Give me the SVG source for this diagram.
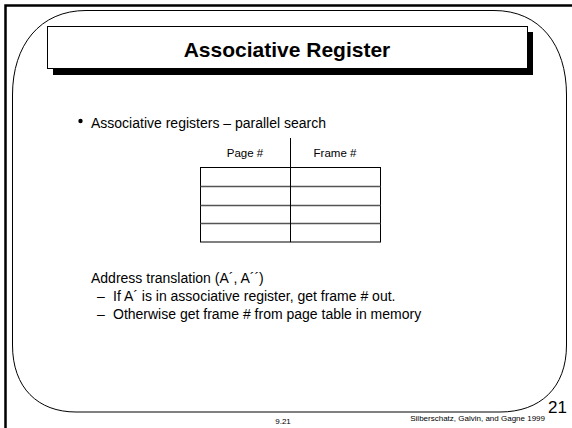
<svg xmlns="http://www.w3.org/2000/svg" width="572" height="428" viewBox="0 0 572 428">
<style>
text{font-family:"Liberation Sans",Arial,sans-serif;fill:#000}
.body{font-size:14px}
.small{font-size:11.5px}
.tiny{font-size:8px}
.ln{stroke:#000;fill:none}
</style>
<rect width="572" height="428" fill="#fff"/>
<path d="M5.5,428 V5.5 H572" fill="none" stroke="#000" stroke-width="2.5"/>
<path class="ln" d="M86,10.5 H494 C540,10.5 566.5,45 566.5,95 V345 C566.5,388 540,412 500,412 H76 C38,412 12.5,388 12.5,345 V95 C12.5,45 40,10.5 86,10.5 Z" stroke-width="1"/>
<g id="title">
<rect x="53" y="32" width="480" height="43" fill="#000"/>
<rect x="47.5" y="26.5" width="480" height="42" fill="#fff" stroke="#000" stroke-width="1"/>
<text x="287" y="57" font-size="21" font-weight="bold" text-anchor="middle">Associative Register</text>
</g>
<g id="bullet">
<circle cx="80.5" cy="121" r="2.2" fill="#000"/>
<text class="body" x="91" y="128">Associative registers – parallel search</text>
</g>
<g id="table">
<rect x="200.5" y="167.5" width="180" height="74.5" fill="#fff" stroke="#000" stroke-width="1"/>
<line x1="200.5" y1="186.5" x2="380.5" y2="186.5" stroke="#555" stroke-width="1.5"/>
<line x1="200.5" y1="205.5" x2="380.5" y2="205.5" stroke="#555" stroke-width="1.5"/>
<line x1="200.5" y1="223.5" x2="380.5" y2="223.5" stroke="#555" stroke-width="1.5"/>
<line x1="290.5" y1="138" x2="290.5" y2="242" stroke="#000" stroke-width="1"/>
<text class="small" x="245" y="157" text-anchor="middle">Page #</text>
<text class="small" x="335" y="157" text-anchor="middle">Frame #</text>
</g>
<g id="translation">
<text class="body" x="91" y="283">Address translation (A´, A´´)</text>
<text class="body" x="97" y="301">–</text>
<text class="body" x="113" y="301">If A´ is in associative register, get frame # out.</text>
<text class="body" x="97" y="319">–</text>
<text class="body" x="113" y="319">Otherwise get frame # from page table in memory</text>
</g>
<g id="footer">
<text class="tiny" x="283" y="424" text-anchor="middle">9.21</text>
<text class="tiny" x="545" y="421" text-anchor="end">Silberschatz, Galvin, and Gagne  1999</text>
<text x="567" y="413" font-size="17" text-anchor="end">21</text>
</g>
</svg>
